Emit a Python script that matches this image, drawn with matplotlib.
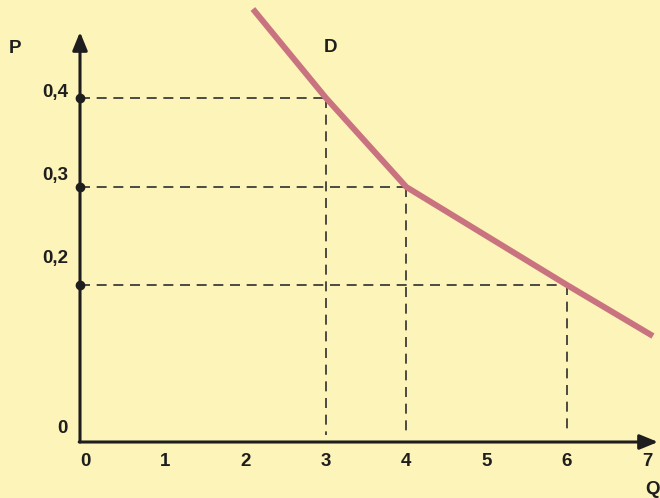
import matplotlib
matplotlib.use('Agg')
import matplotlib.pyplot as plt
import matplotlib.transforms as mtransforms
import numpy as np

plt.rcParams['font.family'] = ['Liberation Sans', 'DejaVu Sans']

# 需要曲線 D (数量 Q, 価格 P)
demand_q = [2.09, 3, 4, 6, 7.07]
demand_p = [0.50, 0.4, 0.3, 0.2, 0.135]

# 補助線を引く点
mark_q = [3, 4, 6]
mark_p = [0.4, 0.3, 0.2]

x_ticks = [0, 1, 2, 3, 4, 5, 6, 7]
y_ticks = [0, 0.2, 0.3, 0.4]
y_tick_labels = ['0', '0,2', '0,3', '0,4']
y_label_lift = [14, 27, 12, 6]   # ラベルを点より上にずらす (px)

# 縦軸は模式図なので区分線形の目盛り
p_knots = np.array([-0.2, 0.0, 0.2, 0.3, 0.4, 0.7])
h_knots = np.array([-157, 0, 157, 255, 344, 611])


def fwd(p):
    return np.interp(p, p_knots, h_knots)


def inv(h):
    return np.interp(h, h_knots, p_knots)


bg = '#FCF4B8'
ink = '#1E1E1E'
line_col = '#C8737F'
fs = 13.5

fig = plt.figure(figsize=(6.6, 4.98), dpi=100, facecolor=bg)
ax = fig.add_axes([0, 0, 1, 1], facecolor=bg)
ax.set_yscale('function', functions=(fwd, inv))

px = 80.33  # 1単位あたりのピクセル
x0 = 85
ax.set_xlim(-x0 / px, (660 - x0) / px)
ax.set_ylim(inv(-56), inv(442))
ax.axis('off')

y_axis_q = (80 - x0) / px

# 軸 (矢印)
ax.annotate('', xy=(y_axis_q, inv(410)), xytext=(y_axis_q, 0),
            arrowprops=dict(arrowstyle='-|>,head_length=1.1,head_width=0.45',
                            color=ink, lw=2.2, shrinkA=0, shrinkB=0))
ax.annotate('', xy=((658 - x0) / px, 0), xytext=(y_axis_q - 0.01, 0),
            arrowprops=dict(arrowstyle='-|>,head_length=1.1,head_width=0.45',
                            color=ink, lw=2.2, shrinkA=0, shrinkB=0))

# 補助の破線
for q, p in zip(mark_q, mark_p):
    ax.plot([y_axis_q, q], [p, p], color='#2E2E2E', lw=1.2,
            dashes=(6, 4), zorder=2)
    ax.plot([q, q], [p, inv(7)], color='#2E2E2E', lw=1.2,
            dashes=(6, 4), zorder=2)
    ax.plot(y_axis_q, p, 'o', color=ink, ms=6, zorder=4)

# 需要曲線
ax.plot(demand_q, demand_p, color=line_col, lw=4.3,
        solid_capstyle='butt', zorder=3)

# 目盛りラベル
for q in x_ticks:
    ax.text(q, inv(-19), str(q), ha='center', va='center',
            fontsize=fs, fontweight='bold', color=ink)

for p, lab, lift in zip(y_ticks, y_tick_labels, y_label_lift):
    tr = mtransforms.offset_copy(ax.transData, fig=fig, x=0, y=lift, units='dots')
    ax.text(y_axis_q - 12 / px, p, lab, ha='right', va='center',
            fontsize=fs, fontweight='bold', color=ink, transform=tr)

# 軸名と曲線名
ax.text(-70 / px, inv(442 - 48), 'P', ha='center', va='center',
        fontsize=fs, fontweight='bold', color=ink)
ax.text(3.06, inv(442 - 47), 'D', ha='center', va='center',
        fontsize=fs, fontweight='bold', color=ink)
ax.text(7.06, inv(-47), 'Q', ha='center', va='center',
        fontsize=fs, fontweight='bold', color=ink)

fig.savefig('out.png', dpi=100, facecolor=bg)
